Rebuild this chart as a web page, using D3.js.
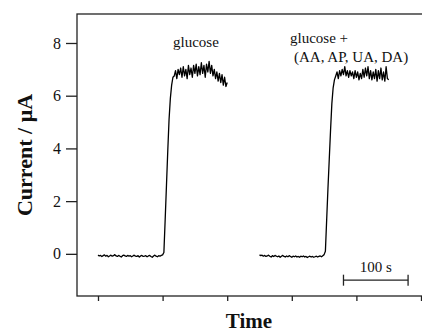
<!DOCTYPE html>
<html>
<head>
<meta charset="utf-8" />
<title>Current vs time</title>
<script src="https://d3js.org/d3.v7.min.js"></script>
<style>
  body { margin: 0; background: #fff; }
  svg text { font-family: "Liberation Serif", "Times New Roman", serif; fill: #111; }
</style>
</head>
<body>
<svg id="chart"></svg>
<script>
// sampling: one point every 2 s
var sampleStep = 2;
var glucoseStart = 0;
var mixtureStart = 250;

var glucoseValues = [
  -0.05,-0.08,-0.06,-0.10,-0.07,-0.04,-0.09,-0.06,-0.11,-0.08,
  -0.05,-0.09,-0.07,-0.03,-0.08,-0.10,-0.06,-0.09,-0.12,-0.07,
  -0.05,-0.08,-0.10,-0.06,-0.09,-0.07,-0.11,-0.08,-0.05,-0.09,
  -0.10,-0.07,-0.12,-0.08,-0.06,-0.10,-0.09,-0.07,-0.11,-0.08,
  -0.06,-0.10,-0.13,-0.08,-0.05,-0.09,-0.11,-0.07,-0.09,-0.06,
  -0.04,
  0.05, 1.3, 2.6, 3.9, 5.1, 5.9, 6.4, 6.7,
  6.75, 6.95, 6.65, 7.0, 6.8, 7.05, 6.7, 7.1, 6.75, 7.0,
  6.65, 7.15, 6.8, 7.05, 6.7, 7.15, 6.85, 7.2, 6.75, 7.1,
  6.8, 7.25, 6.85, 7.15, 6.7, 7.2, 6.9, 7.3, 6.85, 7.15,
  6.75, 7.0, 6.65, 6.9, 6.55, 6.85, 6.5, 6.8, 6.4, 6.7,
  6.35, 6.5
];

var mixtureValues = [
  -0.04,-0.07,-0.05,-0.09,-0.06,-0.10,-0.08,-0.05,-0.09,-0.12,
  -0.07,-0.10,-0.06,-0.09,-0.11,-0.08,-0.13,-0.09,-0.06,-0.10,
  -0.12,-0.08,-0.11,-0.07,-0.10,-0.13,-0.09,-0.11,-0.08,-0.12,
  -0.10,-0.13,-0.09,-0.11,-0.08,-0.12,-0.10,-0.14,-0.11,-0.09,
  -0.12,-0.10,-0.13,-0.11,-0.09,-0.12,-0.10,-0.08,-0.11,-0.07,
  -0.03,
  0.1, 1.3, 2.5, 3.6, 4.7, 5.7, 6.3, 6.6,
  6.75, 6.9, 6.65, 6.95, 6.75, 7.0, 6.8, 7.1, 6.75, 6.95,
  6.7, 6.95, 6.75, 6.9, 6.65, 6.95, 6.7, 6.9, 6.6, 6.85,
  6.65, 7.0, 6.7, 7.05, 6.75, 7.1, 6.65, 6.95, 6.6, 6.9,
  6.65, 7.0, 6.55, 6.95, 6.65, 7.05, 6.6, 6.9, 6.55, 7.1,
  6.65, 6.6
];

var yTicks = [0, 2, 4, 6, 8];
var xTicks = [0, 100, 200, 300, 400, 500];
var scaleBar = { from: 380, to: 480, level: -1.0, label: "100 s" };

var width = 422, height = 333;
var margin = { top: 14, left: 77, bottom: 37 };

var svg = d3.select("#chart")
  .attr("width", width)
  .attr("height", height);

var x = d3.scaleLinear()
  .domain([-32.5, 500])
  .range([margin.left, 421]);

var y = d3.scaleLinear()
  .domain([-1.6, 9.1])
  .range([height - margin.bottom, margin.top]);

function toPoints(start, values) {
  return values.map(function(v, i) {
    return { t: start + i * sampleStep, v: v };
  });
}

// frame
var frame = svg.append("g")
  .attr("stroke", "#222")
  .attr("stroke-width", 1.3)
  .attr("fill", "none");
frame.append("rect")
  .attr("x", margin.left)
  .attr("y", margin.top)
  .attr("width", width + 10 - margin.left)
  .attr("height", height - margin.bottom - margin.top);

// y axis
var yAxis = d3.axisLeft(y)
  .tickValues(yTicks)
  .tickSize(11)
  .tickPadding(5);
var gy = svg.append("g")
  .attr("transform", "translate(" + margin.left + ",0)")
  .call(yAxis)
  .attr("font-family", null);
gy.select(".domain").remove();
gy.selectAll("line").attr("stroke", "#222").attr("stroke-width", 1.3);
gy.selectAll("text")
  .style("font-family", "'Liberation Serif', serif")
  .style("font-size", "16px")
  .style("fill", "#111");

// x axis, ticks only
var xAxis = d3.axisBottom(x)
  .tickValues(xTicks)
  .tickSize(5)
  .tickFormat("");
var gx = svg.append("g")
  .attr("transform", "translate(0," + (height - margin.bottom) + ")")
  .call(xAxis);
gx.select(".domain").remove();
gx.selectAll("line").attr("stroke", "#222").attr("stroke-width", 1.3);

// traces
var line = d3.line()
  .x(function(d) { return x(d.t); })
  .y(function(d) { return y(d.v); });

[toPoints(glucoseStart, glucoseValues), toPoints(mixtureStart, mixtureValues)].forEach(function(pts) {
  svg.append("path")
    .datum(pts)
    .attr("d", line)
    .attr("fill", "none")
    .attr("stroke", "#000")
    .attr("stroke-width", 1.3)
    .attr("stroke-linejoin", "round");
});

// annotations
svg.append("text")
  .attr("x", 173).attr("y", 47)
  .style("font-size", "15px")
  .text("glucose");
svg.append("text")
  .attr("x", 290).attr("y", 43)
  .style("font-size", "15px")
  .text("glucose +");
svg.append("text")
  .attr("x", 294).attr("y", 62)
  .style("font-size", "15px")
  .text("(AA, AP, UA, DA)");

// scale bar
var sb = svg.append("g").attr("stroke", "#222").attr("stroke-width", 1.3);
sb.append("line")
  .attr("x1", x(scaleBar.from)).attr("x2", x(scaleBar.to))
  .attr("y1", y(scaleBar.level)).attr("y2", y(scaleBar.level));
[scaleBar.from, scaleBar.to].forEach(function(t) {
  sb.append("line")
    .attr("x1", x(t)).attr("x2", x(t))
    .attr("y1", y(scaleBar.level) - 5.5).attr("y2", y(scaleBar.level) + 5.5);
});
svg.append("text")
  .attr("x", x((scaleBar.from + scaleBar.to) / 2))
  .attr("y", 272)
  .attr("text-anchor", "middle")
  .style("font-size", "15px")
  .text(scaleBar.label);

// axis titles
svg.append("text")
  .attr("x", (margin.left + 421) / 2)
  .attr("y", 328)
  .attr("text-anchor", "middle")
  .style("font-size", "21px")
  .style("font-weight", "bold")
  .text("Time");
svg.append("text")
  .attr("transform", "translate(32,155) rotate(-90)")
  .attr("text-anchor", "middle")
  .style("font-size", "22px")
  .style("font-weight", "bold")
  .text("Current / μA");
</script>
</body>
</html>
